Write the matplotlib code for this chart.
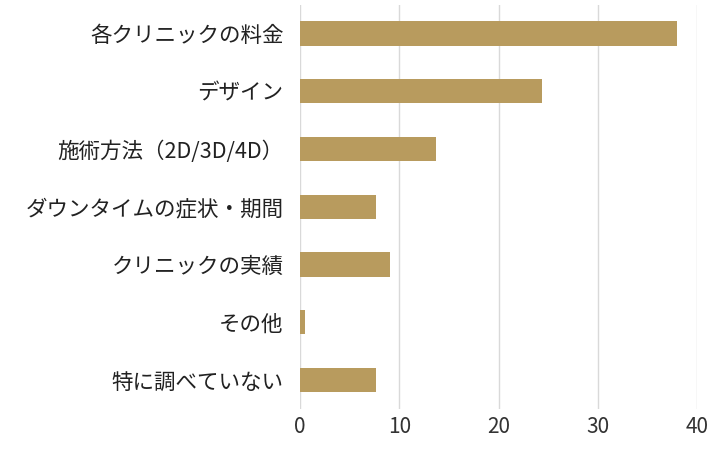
import matplotlib
matplotlib.use("Agg")
import matplotlib.pyplot as plt

categories = ["各クリニックの料金", "デザイン", "施術方法（2D/3D/4D）", "ダウンタイムの症状・期間",
              "クリニックの実績", "その他", "特に調べていない"]
values = [38.0, 24.4, 13.7, 7.6, 9.0, 0.5, 7.6]
xticks = [0, 10, 20, 30, 40]

plt.rcParams["font.family"] = "Noto Sans CJK JP"
fig = plt.figure(figsize=(7.2, 4.5), dpi=100)
ax = fig.add_axes([0.417, 0.091, 0.551, 0.899])
y = list(range(len(categories)))
ax.barh(y, values, height=0.42, color="#b89b5e", zorder=3)
ax.set_ylim(len(categories) - 0.5, -0.5)
ax.set_xlim(0, 40)
ax.set_xticks(xticks)
ax.set_yticks(y)
ax.set_yticklabels(categories, fontsize=15.5, color="#222222")
ax.tick_params(axis="x", labelsize=15, colors="#333333", length=0, pad=5)
ax.tick_params(axis="y", length=0, pad=12)
ax.grid(axis="x", color="#d9d9d9", linewidth=1, zorder=0)
for s in ax.spines.values():
    s.set_visible(False)
fig.savefig("out.png", dpi=100)
